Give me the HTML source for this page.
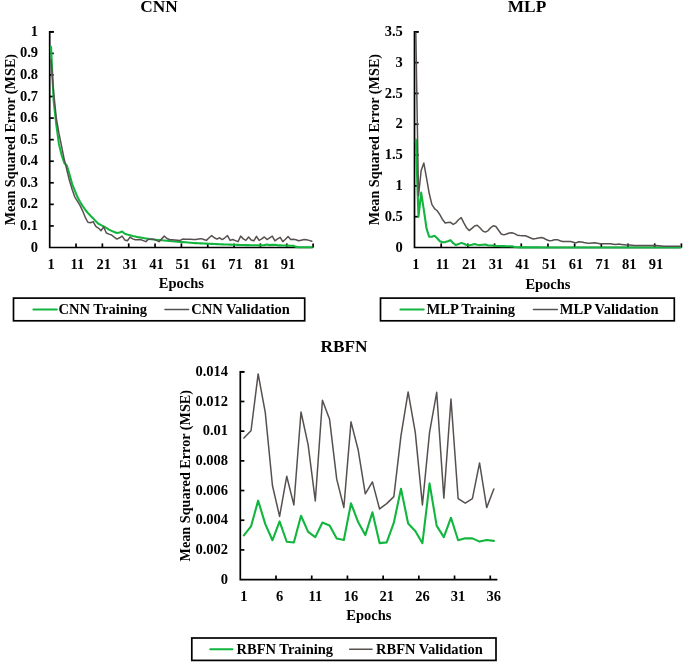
<!DOCTYPE html>
<html><head><meta charset="utf-8"><title>Training curves</title>
<style>
html,body{margin:0;padding:0;background:#fff;}
body{width:685px;height:663px;overflow:hidden;}
svg{display:block;will-change:transform;}
text{font-family:'Liberation Serif',serif;font-weight:bold;fill:#000;}
</style></head>
<body>
<svg width="685" height="663" viewBox="0 0 685 663">
<rect width="685" height="663" fill="#fff"/>
<text x="38.10" y="251.60" font-size="14.5" text-anchor="end">0</text>
<line x1="49.70" y1="225.93" x2="53.80" y2="225.93" stroke="#000" stroke-width="1.7" stroke-linecap="butt"/>
<text x="38.10" y="230.03" font-size="14.5" text-anchor="end">0.1</text>
<line x1="49.70" y1="204.36" x2="53.80" y2="204.36" stroke="#000" stroke-width="1.7" stroke-linecap="butt"/>
<text x="38.10" y="208.46" font-size="14.5" text-anchor="end">0.2</text>
<line x1="49.70" y1="182.79" x2="53.80" y2="182.79" stroke="#000" stroke-width="1.7" stroke-linecap="butt"/>
<text x="38.10" y="186.89" font-size="14.5" text-anchor="end">0.3</text>
<line x1="49.70" y1="161.22" x2="53.80" y2="161.22" stroke="#000" stroke-width="1.7" stroke-linecap="butt"/>
<text x="38.10" y="165.32" font-size="14.5" text-anchor="end">0.4</text>
<line x1="49.70" y1="139.65" x2="53.80" y2="139.65" stroke="#000" stroke-width="1.7" stroke-linecap="butt"/>
<text x="38.10" y="143.75" font-size="14.5" text-anchor="end">0.5</text>
<line x1="49.70" y1="118.08" x2="53.80" y2="118.08" stroke="#000" stroke-width="1.7" stroke-linecap="butt"/>
<text x="38.10" y="122.18" font-size="14.5" text-anchor="end">0.6</text>
<line x1="49.70" y1="96.51" x2="53.80" y2="96.51" stroke="#000" stroke-width="1.7" stroke-linecap="butt"/>
<text x="38.10" y="100.61" font-size="14.5" text-anchor="end">0.7</text>
<line x1="49.70" y1="74.94" x2="53.80" y2="74.94" stroke="#000" stroke-width="1.7" stroke-linecap="butt"/>
<text x="38.10" y="79.04" font-size="14.5" text-anchor="end">0.8</text>
<line x1="49.70" y1="53.37" x2="53.80" y2="53.37" stroke="#000" stroke-width="1.7" stroke-linecap="butt"/>
<text x="38.10" y="57.47" font-size="14.5" text-anchor="end">0.9</text>
<line x1="49.70" y1="31.80" x2="53.80" y2="31.80" stroke="#000" stroke-width="1.7" stroke-linecap="butt"/>
<text x="38.10" y="35.90" font-size="14.5" text-anchor="end">1</text>
<line x1="76.04" y1="247.50" x2="76.04" y2="243.40" stroke="#000" stroke-width="1.7" stroke-linecap="butt"/>
<line x1="102.38" y1="247.50" x2="102.38" y2="243.40" stroke="#000" stroke-width="1.7" stroke-linecap="butt"/>
<line x1="128.72" y1="247.50" x2="128.72" y2="243.40" stroke="#000" stroke-width="1.7" stroke-linecap="butt"/>
<line x1="155.06" y1="247.50" x2="155.06" y2="243.40" stroke="#000" stroke-width="1.7" stroke-linecap="butt"/>
<line x1="181.40" y1="247.50" x2="181.40" y2="243.40" stroke="#000" stroke-width="1.7" stroke-linecap="butt"/>
<line x1="207.74" y1="247.50" x2="207.74" y2="243.40" stroke="#000" stroke-width="1.7" stroke-linecap="butt"/>
<line x1="234.08" y1="247.50" x2="234.08" y2="243.40" stroke="#000" stroke-width="1.7" stroke-linecap="butt"/>
<line x1="260.42" y1="247.50" x2="260.42" y2="243.40" stroke="#000" stroke-width="1.7" stroke-linecap="butt"/>
<line x1="286.76" y1="247.50" x2="286.76" y2="243.40" stroke="#000" stroke-width="1.7" stroke-linecap="butt"/>
<line x1="313.10" y1="247.50" x2="313.10" y2="243.40" stroke="#000" stroke-width="1.7" stroke-linecap="butt"/>
<text x="51.02" y="269.00" font-size="14.5" text-anchor="middle">1</text>
<text x="77.36" y="269.00" font-size="14.5" text-anchor="middle">11</text>
<text x="103.70" y="269.00" font-size="14.5" text-anchor="middle">21</text>
<text x="130.04" y="269.00" font-size="14.5" text-anchor="middle">31</text>
<text x="156.38" y="269.00" font-size="14.5" text-anchor="middle">41</text>
<text x="182.72" y="269.00" font-size="14.5" text-anchor="middle">51</text>
<text x="209.06" y="269.00" font-size="14.5" text-anchor="middle">61</text>
<text x="235.40" y="269.00" font-size="14.5" text-anchor="middle">71</text>
<text x="261.74" y="269.00" font-size="14.5" text-anchor="middle">81</text>
<text x="288.08" y="269.00" font-size="14.5" text-anchor="middle">91</text>
<path d="M49.70,31.80 H53.80 M49.70,30.95 V247.50 H313.10" fill="none" stroke="#000" stroke-width="1.7"/>
<polyline points="51.02,46.90 53.65,100.82 56.29,124.55 58.92,143.96 61.55,154.75 64.19,162.73 66.82,165.53 69.46,174.16 72.09,183.87 74.72,190.34 77.36,196.81 79.99,201.77 82.62,205.87 85.26,209.75 87.89,212.99 90.53,215.79 93.16,218.38 95.80,221.18 98.43,223.77 101.06,225.07 103.70,226.36 106.33,227.87 108.97,229.60 111.60,230.89 114.23,231.97 116.87,233.05 119.50,232.40 122.14,231.54 124.77,233.70 127.40,234.56 130.04,235.21 132.67,236.07 135.31,236.50 137.94,237.15 140.57,237.58 143.21,238.01 145.84,238.44 148.48,238.87 151.11,239.20 153.74,239.52 156.38,239.78 159.01,240.04 161.65,240.30 164.28,240.55 166.91,240.81 169.55,241.03 172.18,241.24 174.81,241.46 177.45,241.68 180.08,241.89 182.72,242.11 185.35,242.32 187.99,242.54 190.62,242.75 193.25,242.97 195.89,243.10 198.52,243.23 201.16,243.36 203.79,243.49 206.42,243.62 209.06,243.75 211.69,243.88 214.33,244.01 216.96,244.14 219.59,244.26 222.23,244.35 224.86,244.44 227.50,244.52 230.13,244.61 232.76,244.70 235.40,244.78 238.03,244.87 240.67,244.95 243.30,245.04 245.93,245.13 248.57,245.17 251.20,245.21 253.84,245.26 256.47,245.30 259.10,245.34 261.74,245.24 264.37,245.13 267.01,244.48 269.64,245.13 272.27,244.91 274.91,244.70 277.54,245.34 280.18,245.41 282.81,245.49 285.44,245.56 288.08,245.63 290.71,245.70 293.35,245.77 295.98,246.85 298.61,247.18 301.25,247.20 303.88,247.22 306.52,247.24 309.15,247.26 311.78,247.28" fill="none" stroke="#12b63f" stroke-width="2.1" stroke-linejoin="round" stroke-linecap="round"/>
<polyline points="51.02,59.84 53.65,92.20 56.29,118.08 58.92,133.18 61.55,146.12 64.19,159.06 66.82,169.85 69.46,180.63 72.09,189.26 74.72,196.81 77.36,201.12 79.99,205.44 82.62,210.83 85.26,217.30 87.89,222.26 90.53,222.69 93.16,221.62 95.80,226.36 98.43,228.09 101.06,230.68 103.70,227.01 106.33,233.05 108.97,234.13 111.60,234.99 114.23,237.15 116.87,239.09 119.50,237.79 122.14,236.07 124.77,239.95 127.40,240.81 130.04,237.15 132.67,238.87 135.31,239.73 137.94,239.73 140.57,239.52 143.21,240.60 145.84,241.68 148.48,239.30 151.11,239.30 153.74,239.30 156.38,240.38 159.01,241.68 161.65,238.87 164.28,236.07 166.91,238.44 169.55,239.52 172.18,239.73 174.81,239.95 177.45,240.17 180.08,240.38 182.72,239.09 185.35,239.30 187.99,239.30 190.62,239.30 193.25,239.52 195.89,239.52 198.52,239.09 201.16,238.66 203.79,239.52 206.42,240.38 209.06,237.79 211.69,235.64 214.33,237.79 216.96,239.09 219.59,237.79 222.23,239.52 224.86,237.79 227.50,235.64 230.13,240.38 232.76,239.52 235.40,240.60 238.03,241.68 240.67,236.07 243.30,238.87 245.93,240.38 248.57,236.93 251.20,239.95 253.84,240.81 256.47,236.28 259.10,240.38 261.74,238.87 264.37,236.93 267.01,239.52 269.64,237.79 272.27,236.07 274.91,240.81 277.54,238.87 280.18,237.36 282.81,241.68 285.44,239.30 288.08,236.50 290.71,239.52 293.35,239.30 295.98,239.73 298.61,240.81 301.25,240.17 303.88,239.52 306.52,239.73 309.15,240.38 311.78,241.24" fill="none" stroke="#56514f" stroke-width="1.5" stroke-linejoin="round" stroke-linecap="round"/>
<text x="181.40" y="288.10" font-size="14.5" text-anchor="middle">Epochs</text>
<text x="0.00" y="0.00" font-size="14.2" text-anchor="middle" transform="translate(14.60,139.65) rotate(-90)">Mean Squared Error (MSE)</text>
<text x="158.90" y="12.30" font-size="17.3" text-anchor="middle">CNN</text>
<rect x="13.50" y="298.10" width="291.20" height="22.70" fill="none" stroke="#000" stroke-width="1.7"/>
<line x1="33.40" y1="309.45" x2="56.80" y2="309.45" stroke="#12b63f" stroke-width="2.0" stroke-linecap="round"/>
<text x="58.60" y="314.05" font-size="14.5" text-anchor="start">CNN Training</text>
<line x1="165.00" y1="309.45" x2="188.60" y2="309.45" stroke="#56514f" stroke-width="1.6" stroke-linecap="round"/>
<text x="191.20" y="314.05" font-size="14.5" text-anchor="start">CNN Validation</text>
<text x="402.80" y="251.60" font-size="14.5" text-anchor="end">0</text>
<line x1="414.50" y1="216.69" x2="418.60" y2="216.69" stroke="#000" stroke-width="1.7" stroke-linecap="butt"/>
<text x="402.80" y="220.79" font-size="14.5" text-anchor="end">0.5</text>
<line x1="414.50" y1="185.87" x2="418.60" y2="185.87" stroke="#000" stroke-width="1.7" stroke-linecap="butt"/>
<text x="402.80" y="189.97" font-size="14.5" text-anchor="end">1</text>
<line x1="414.50" y1="155.06" x2="418.60" y2="155.06" stroke="#000" stroke-width="1.7" stroke-linecap="butt"/>
<text x="402.80" y="159.16" font-size="14.5" text-anchor="end">1.5</text>
<line x1="414.50" y1="124.24" x2="418.60" y2="124.24" stroke="#000" stroke-width="1.7" stroke-linecap="butt"/>
<text x="402.80" y="128.34" font-size="14.5" text-anchor="end">2</text>
<line x1="414.50" y1="93.43" x2="418.60" y2="93.43" stroke="#000" stroke-width="1.7" stroke-linecap="butt"/>
<text x="402.80" y="97.53" font-size="14.5" text-anchor="end">2.5</text>
<line x1="414.50" y1="62.61" x2="418.60" y2="62.61" stroke="#000" stroke-width="1.7" stroke-linecap="butt"/>
<text x="402.80" y="66.71" font-size="14.5" text-anchor="end">3</text>
<line x1="414.50" y1="31.80" x2="418.60" y2="31.80" stroke="#000" stroke-width="1.7" stroke-linecap="butt"/>
<text x="402.80" y="35.90" font-size="14.5" text-anchor="end">3.5</text>
<line x1="441.19" y1="247.50" x2="441.19" y2="243.40" stroke="#000" stroke-width="1.7" stroke-linecap="butt"/>
<line x1="467.88" y1="247.50" x2="467.88" y2="243.40" stroke="#000" stroke-width="1.7" stroke-linecap="butt"/>
<line x1="494.57" y1="247.50" x2="494.57" y2="243.40" stroke="#000" stroke-width="1.7" stroke-linecap="butt"/>
<line x1="521.26" y1="247.50" x2="521.26" y2="243.40" stroke="#000" stroke-width="1.7" stroke-linecap="butt"/>
<line x1="547.95" y1="247.50" x2="547.95" y2="243.40" stroke="#000" stroke-width="1.7" stroke-linecap="butt"/>
<line x1="574.64" y1="247.50" x2="574.64" y2="243.40" stroke="#000" stroke-width="1.7" stroke-linecap="butt"/>
<line x1="601.33" y1="247.50" x2="601.33" y2="243.40" stroke="#000" stroke-width="1.7" stroke-linecap="butt"/>
<line x1="628.02" y1="247.50" x2="628.02" y2="243.40" stroke="#000" stroke-width="1.7" stroke-linecap="butt"/>
<line x1="654.71" y1="247.50" x2="654.71" y2="243.40" stroke="#000" stroke-width="1.7" stroke-linecap="butt"/>
<line x1="681.40" y1="247.50" x2="681.40" y2="243.40" stroke="#000" stroke-width="1.7" stroke-linecap="butt"/>
<text x="415.83" y="269.00" font-size="14.5" text-anchor="middle">1</text>
<text x="442.52" y="269.00" font-size="14.5" text-anchor="middle">11</text>
<text x="469.21" y="269.00" font-size="14.5" text-anchor="middle">21</text>
<text x="495.90" y="269.00" font-size="14.5" text-anchor="middle">31</text>
<text x="522.59" y="269.00" font-size="14.5" text-anchor="middle">41</text>
<text x="549.28" y="269.00" font-size="14.5" text-anchor="middle">51</text>
<text x="575.97" y="269.00" font-size="14.5" text-anchor="middle">61</text>
<text x="602.66" y="269.00" font-size="14.5" text-anchor="middle">71</text>
<text x="629.35" y="269.00" font-size="14.5" text-anchor="middle">81</text>
<text x="656.04" y="269.00" font-size="14.5" text-anchor="middle">91</text>
<path d="M414.50,31.80 H418.60 M414.50,30.95 V247.50 H681.40" fill="none" stroke="#000" stroke-width="1.7"/>
<polyline points="415.83,139.65 418.50,216.69 421.17,192.65 423.84,209.91 426.51,228.40 429.18,236.78 431.85,236.78 434.52,235.79 437.19,238.19 439.86,241.21 442.52,242.20 445.19,242.08 447.86,241.21 450.53,240.17 453.20,243.19 455.87,245.03 458.54,244.11 461.21,242.88 463.88,243.80 466.55,245.03 469.21,245.34 471.88,244.73 474.55,243.99 477.22,244.73 479.89,245.03 482.56,244.73 485.23,244.42 487.90,245.34 490.57,245.50 493.24,245.65 495.90,245.96 498.57,246.02 501.24,246.08 503.91,246.14 506.58,246.21 509.25,246.27 511.92,246.33 514.59,247.01 517.26,247.19 519.93,247.38 522.59,247.38 525.26,247.39 527.93,247.40 530.60,247.40 533.27,247.41 535.94,247.41 538.61,247.42 541.28,247.43 543.95,247.43 546.62,247.44 549.28,247.44 551.95,247.44 554.62,247.44 557.29,247.44 559.96,247.44 562.63,247.44 565.30,247.44 567.97,247.44 570.64,247.44 573.31,247.44 575.97,247.45 578.64,247.45 581.31,247.45 583.98,247.45 586.65,247.45 589.32,247.45 591.99,247.45 594.66,247.45 597.33,247.45 600.00,247.45 602.66,247.45 605.33,247.45 608.00,247.45 610.67,247.45 613.34,247.45 616.01,247.45 618.68,247.46 621.35,247.46 624.02,247.46 626.69,247.46 629.35,247.46 632.02,247.46 634.69,247.46 637.36,247.46 640.03,247.46 642.70,247.46 645.37,247.46 648.04,247.46 650.71,247.46 653.38,247.46 656.04,247.46 658.71,247.46 661.38,247.46 664.05,247.47 666.72,247.47 669.39,247.47 672.06,247.47 674.73,247.47 677.40,247.47 680.07,247.47" fill="none" stroke="#12b63f" stroke-width="2.1" stroke-linejoin="round" stroke-linecap="round"/>
<polyline points="415.83,33.03 418.50,195.73 421.17,170.46 423.84,163.07 426.51,177.86 429.18,193.27 431.85,204.36 434.52,208.67 437.19,210.77 439.86,214.65 442.52,219.58 445.19,222.97 447.86,222.54 450.53,222.36 453.20,224.39 455.87,222.85 458.54,219.77 461.21,217.61 463.88,222.85 466.55,227.78 469.21,230.55 471.88,228.40 474.55,225.93 477.22,225.31 479.89,227.78 482.56,230.86 485.23,232.09 487.90,230.86 490.57,227.78 493.24,225.75 495.90,226.55 498.57,230.24 501.24,233.94 503.91,234.87 506.58,233.94 509.25,233.02 511.92,232.71 514.59,233.63 517.26,235.17 519.93,235.61 522.59,235.70 525.26,235.79 527.93,236.72 530.60,237.95 533.27,239.00 535.94,238.56 538.61,237.95 541.28,237.45 543.95,238.26 546.62,239.80 549.28,240.72 551.95,240.41 554.62,239.80 557.29,239.67 559.96,240.72 562.63,241.46 565.30,241.52 567.97,241.58 570.64,241.58 573.31,242.26 575.97,242.88 578.64,241.77 581.31,241.95 583.98,242.57 586.65,242.97 589.32,243.37 591.99,243.09 594.66,242.82 597.33,243.31 600.00,243.80 602.66,243.80 605.33,243.80 608.00,243.80 610.67,243.80 613.34,244.20 616.01,244.60 618.68,244.11 621.35,244.38 624.02,244.64 626.69,244.91 629.35,245.08 632.02,245.24 634.69,245.40 637.36,245.40 640.03,245.40 642.70,245.40 645.37,245.40 648.04,245.40 650.71,245.40 653.38,245.40 656.04,245.62 658.71,245.84 661.38,246.05 664.05,246.27 666.72,246.27 669.39,246.27 672.06,246.27 674.73,246.27 677.40,246.27 680.07,246.27" fill="none" stroke="#56514f" stroke-width="1.5" stroke-linejoin="round" stroke-linecap="round"/>
<text x="547.95" y="288.70" font-size="14.5" text-anchor="middle">Epochs</text>
<text x="0.00" y="0.00" font-size="14.2" text-anchor="middle" transform="translate(378.90,139.65) rotate(-90)">Mean Squared Error (MSE)</text>
<text x="527.00" y="12.30" font-size="17.3" text-anchor="middle">MLP</text>
<rect x="380.50" y="298.10" width="293.80" height="22.70" fill="none" stroke="#000" stroke-width="1.7"/>
<line x1="400.40" y1="309.45" x2="423.70" y2="309.45" stroke="#12b63f" stroke-width="2.0" stroke-linecap="round"/>
<text x="426.60" y="314.05" font-size="14.5" text-anchor="start">MLP Training</text>
<line x1="533.50" y1="309.45" x2="557.30" y2="309.45" stroke="#56514f" stroke-width="1.6" stroke-linecap="round"/>
<text x="559.80" y="314.05" font-size="14.5" text-anchor="start">MLP Validation</text>
<text x="228.10" y="583.70" font-size="14.5" text-anchor="end">0</text>
<line x1="240.30" y1="549.91" x2="244.40" y2="549.91" stroke="#000" stroke-width="1.7" stroke-linecap="butt"/>
<text x="228.10" y="554.01" font-size="14.5" text-anchor="end">0.002</text>
<line x1="240.30" y1="520.23" x2="244.40" y2="520.23" stroke="#000" stroke-width="1.7" stroke-linecap="butt"/>
<text x="228.10" y="524.33" font-size="14.5" text-anchor="end">0.004</text>
<line x1="240.30" y1="490.54" x2="244.40" y2="490.54" stroke="#000" stroke-width="1.7" stroke-linecap="butt"/>
<text x="228.10" y="494.64" font-size="14.5" text-anchor="end">0.006</text>
<line x1="240.30" y1="460.86" x2="244.40" y2="460.86" stroke="#000" stroke-width="1.7" stroke-linecap="butt"/>
<text x="228.10" y="464.96" font-size="14.5" text-anchor="end">0.008</text>
<line x1="240.30" y1="431.17" x2="244.40" y2="431.17" stroke="#000" stroke-width="1.7" stroke-linecap="butt"/>
<text x="228.10" y="435.27" font-size="14.5" text-anchor="end">0.01</text>
<line x1="240.30" y1="401.49" x2="244.40" y2="401.49" stroke="#000" stroke-width="1.7" stroke-linecap="butt"/>
<text x="228.10" y="405.59" font-size="14.5" text-anchor="end">0.012</text>
<line x1="240.30" y1="371.80" x2="244.40" y2="371.80" stroke="#000" stroke-width="1.7" stroke-linecap="butt"/>
<text x="228.10" y="375.90" font-size="14.5" text-anchor="end">0.014</text>
<line x1="276.01" y1="579.60" x2="276.01" y2="575.50" stroke="#000" stroke-width="1.7" stroke-linecap="butt"/>
<line x1="311.72" y1="579.60" x2="311.72" y2="575.50" stroke="#000" stroke-width="1.7" stroke-linecap="butt"/>
<line x1="347.43" y1="579.60" x2="347.43" y2="575.50" stroke="#000" stroke-width="1.7" stroke-linecap="butt"/>
<line x1="383.13" y1="579.60" x2="383.13" y2="575.50" stroke="#000" stroke-width="1.7" stroke-linecap="butt"/>
<line x1="418.84" y1="579.60" x2="418.84" y2="575.50" stroke="#000" stroke-width="1.7" stroke-linecap="butt"/>
<line x1="454.55" y1="579.60" x2="454.55" y2="575.50" stroke="#000" stroke-width="1.7" stroke-linecap="butt"/>
<line x1="490.26" y1="579.60" x2="490.26" y2="575.50" stroke="#000" stroke-width="1.7" stroke-linecap="butt"/>
<text x="243.87" y="601.10" font-size="14.5" text-anchor="middle">1</text>
<text x="279.58" y="601.10" font-size="14.5" text-anchor="middle">6</text>
<text x="315.29" y="601.10" font-size="14.5" text-anchor="middle">11</text>
<text x="351.00" y="601.10" font-size="14.5" text-anchor="middle">16</text>
<text x="386.70" y="601.10" font-size="14.5" text-anchor="middle">21</text>
<text x="422.41" y="601.10" font-size="14.5" text-anchor="middle">26</text>
<text x="458.12" y="601.10" font-size="14.5" text-anchor="middle">31</text>
<text x="493.83" y="601.10" font-size="14.5" text-anchor="middle">36</text>
<path d="M240.30,371.80 H244.40 M240.30,370.95 V579.60 H497.40" fill="none" stroke="#000" stroke-width="1.7"/>
<polyline points="243.87,535.37 251.01,526.46 258.15,500.64 265.30,524.09 272.44,540.27 279.58,521.42 286.72,541.75 293.86,542.49 301.00,515.78 308.15,531.81 315.29,537.15 322.43,522.46 329.57,525.42 336.71,538.49 343.85,539.97 351.00,503.31 358.14,522.01 365.28,535.07 372.42,512.36 379.56,543.09 386.70,542.34 393.85,522.60 400.99,488.76 408.13,523.49 415.27,531.06 422.41,543.24 429.55,483.42 436.70,525.87 443.84,537.15 450.98,517.71 458.12,540.27 465.26,538.34 472.40,538.34 479.55,541.60 486.69,539.97 493.83,540.86" fill="none" stroke="#12b63f" stroke-width="2.1" stroke-linejoin="round" stroke-linecap="round"/>
<polyline points="243.87,438.00 251.01,430.73 258.15,373.88 265.30,412.62 272.44,485.50 279.58,516.37 286.72,476.29 293.86,504.94 301.00,412.02 308.15,444.83 315.29,500.93 322.43,400.30 329.57,419.30 336.71,479.11 343.85,507.46 351.00,421.82 358.14,449.73 365.28,493.81 372.42,481.93 379.56,508.95 386.70,503.60 393.85,496.63 400.99,435.62 408.13,391.99 415.27,432.36 422.41,504.94 429.55,432.36 436.70,392.28 443.84,498.11 450.98,398.96 458.12,498.56 465.26,503.16 472.40,498.56 479.55,462.94 486.69,507.61 493.83,488.91" fill="none" stroke="#56514f" stroke-width="1.5" stroke-linejoin="round" stroke-linecap="round"/>
<text x="368.85" y="619.50" font-size="14.5" text-anchor="middle">Epochs</text>
<text x="0.00" y="0.00" font-size="14.2" text-anchor="middle" transform="translate(190.30,475.70) rotate(-90)">Mean Squared Error (MSE)</text>
<text x="344.00" y="352.20" font-size="17.3" text-anchor="middle">RBFN</text>
<rect x="191.80" y="638.00" width="304.20" height="22.40" fill="none" stroke="#000" stroke-width="1.7"/>
<line x1="210.20" y1="649.20" x2="232.50" y2="649.20" stroke="#12b63f" stroke-width="2.0" stroke-linecap="round"/>
<text x="236.50" y="653.80" font-size="14.5" text-anchor="start">RBFN Training</text>
<line x1="349.70" y1="649.20" x2="372.00" y2="649.20" stroke="#56514f" stroke-width="1.6" stroke-linecap="round"/>
<text x="376.00" y="653.80" font-size="14.5" text-anchor="start">RBFN Validation</text>
</svg>
</body></html>
